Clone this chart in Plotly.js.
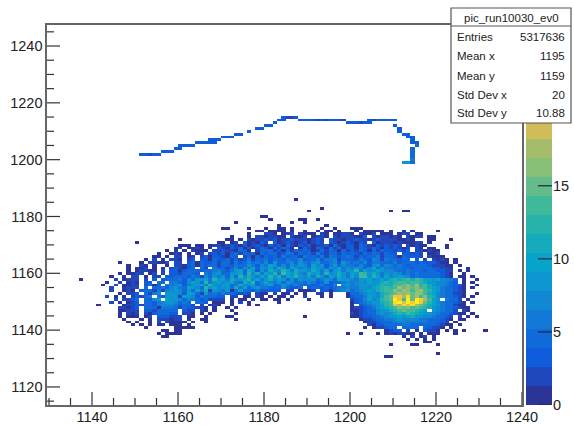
<!DOCTYPE html>
<html>
<head>
<meta charset="utf-8">
<script src="https://cdn.plot.ly/plotly-3.0.1.min.js"></script>
<style>html,body{margin:0;padding:0;background:#fff}#c{width:574px;height:425px}</style>
</head>
<body>
<div id="c"></div>
<script>
// Bin contents. Each entry: [bin y, first x (a decade), blocks of ten bins].
// '.' = empty, 1-9 then a=10 ... p=25.
const trackRows = [
[1215,1180,"....3223"],
[1214,1180,"...33...33 332323332. ....323333 3"],
[1213,1180,"..3....... .........3 33233"],
[1212,1180,"33"],[1212,1210,"3"],
[1211,1170,"........33"],[1211,1210,".3"],
[1210,1170,"......3"],[1210,1210,".3"],
[1209,1170,"...33"],[1209,1210,"..33"],
[1208,1170,"333"],[1208,1210,"...33"],
[1207,1160,".......333"],[1207,1210,"....3"],
[1206,1160,"....33333"],[1206,1210,"....33"],
[1205,1160,"3333"],[1205,1210,".....4"],
[1204,1150,".........3 3"],[1204,1210,"....4"],
[1203,1150,"......333"],[1203,1210,"....4"],
[1202,1150,".33233"],[1202,1210,"....4"],
[1201,1210,"....5"],
[1200,1210,"....6"],
[1199,1210,"..895"]
];
const blobRows = [
[1186,1180,".......1.."],
[1183,1190,"...1"],
[1182,1190,"1......... .........1 ..11"],
[1180,1170,".........1 1"],
[1179,1180,".1......11 ..1"],
[1178,1170,"...1...... ......1..1"],
[1177,1180,"...1...... ....1"],
[1176,1170,"11....1... 1..11.1... ...1..1... 111"],
[1175,1170,"........11 .1111.1..1 ..1.11.1.. .1.11111.1 ..1.1..... 1"],
[1174,1170,"......1... 221.122.21 11.21.1122 1.2112.111 .122.11..."],
[1173,1170,"..1...1.22 12211.2112 .1221.2122 2113.21221 21.2122.11"],
[1172,1160,"1"],
[1172,1170,".11.1.2122 3231223222 1232.32212 2322123222 21121...11 ...1"],
[1171,1150,"1"],
[1171,1160,".........1 1.12.31213 2.31232123 1232.32123 2132.31222 1211122.1."],
[1170,1160,"111.11.122 1232131232 1323142132 3122314213 3143213232 32.21211.. ..1"],
[1169,1150,".........1 2.1121.1.3 2132413124 3142531.14 2153142413 3143243132 3212.21.11 ..1"],
[1168,1150,".......1.1 .1.2111.22 3221431.24 4523142534 3124253142 3243142433 2323.22121 1"],
[1167,1150,".....1..12 1.1.12.232 3135243415 3452365243 4263254253 4324354243 3.33232.11 2"],
[1166,1150,"....11.1.2 2.12.23133 2143.24152 5342634526 4536265346 4253546245 3143332.21 11"],
[1165,1150,"..1.2.1.22 1.23.33143 3524236254 6354365473 5473667245 4365376265 5344.3.2.2 121.1"],
[1164,1140,"......1... .1.22112.2 2.34143342 5426347564 7385467486 5784567396 4657366544 6355434333 211.1"],
[1163,1140,"........1. .21.1..1.2 2134143452 4436548637 6a85749687 5a78369476 6475378476 5653544532 2211.1"],
[1162,1140,"........1. 112.1.1.23 2135.42.63 4257386a58 7a6b84a967 6a97487a69 68757a5866 5655354543 3221...1"],
[1161,1140,"........1. 12211.2.33 1354534567 4368a5b938 6b97ca6b88 7b96a48a68 9c6a78a877 6456545344 3322.1.1"],
[1160,1140,"......1.11 22.12.2.33 24553.6478 5489a5c7b6 a8c6da8b76 b9a6c78b96 a8dc8b9697 8756564544 4321..1"],
[1159,1140,"....1..1.2 2.1.22.334 4536427596 84a5c7b96a 7c9b6a8c97 a6b94a7b86 a7de9ca6a7 8a97465455 4321.11.1"],
[1158,1130,".......1.. .....2.122 2.2.3.3445 637589a6c8 a6b89ac7a6 9b7a849587 7846974a88 7688a79a9b cbcdbdcaa8 a7765.1..1"],
[1157,1140,"...1..2.12 1.33.44.66 537a85c69a 79a64b8c57 a768497465 7634835467 6787a89bcb cdeceecb98 77643.1.1"],
[1156,1140,"..1..2.112 2.3415.667 83689a6c97 8a56b79a56 7a54865754 4356336.78 679889acbb defgehcdb9 7764331..1"],
[1155,1140,"....2..122 2.4.456378 64a974c8a7 894b6a5786 645474334. 3443435667 66897abcdc ehfgfgedba 8654321.1"],
[1154,1140,"....2..121 .345262778 7494a6b287 6815a45363 3333.22.11 12.3315678 5678a9bcde gfhgegheca 8654321"],
[1153,1140,"......1.22 3.5267.889 73a9528465 6443232.21 1.2.11.1.1 ..21.1...1 4567897bce fhgifhgeba 7654221..1"],
[1152,1140,"...2.1.1.2 3256.63899 2a87365443 3.22.11.21 .1.11.1..2 ...1.1...1 3456a87bdf nlhofhegcb 7654321.1"],
[1151,1140,".....2.223 4.5378.a98 7476534222 2.1.11.1.1 1.11.1.... 1......... 2357a79cdf pmdpfpnhda 9.6542.1"],
[1150,1140,"....2.1.12 3.45367887 465.443.11 1.1.2.1... ...1...... .......... 1346789bce orkpnpmfca 7654321.1"],
[1149,1140,".1.....122 3245367776 3542.2.121 ..1...1.1. .......... .......... 1.35678ace lhokohfdba 8654211"],
[1148,1140,"......2212 3.44516665 2433221.1. .1.1...... .......... .......... 1223568abc egfgefdcb8 76543211"],
[1147,1140,"......1122 2.33245554 .322.21.1. ..1....... .......... .......... 112345789b cdfdecba.8 76542.21"],
[1146,1140,"......1.21 2.21344433 .221.1.1.. ...1...... .......... .......... 2123457878 bcbdcba987 6543211.1"],
[1145,1140,"......1.11 1.12.33322 2.11..1... .11....... .........1 .......... 1123345678 8a9ab98776 5432.2.1.1"],
[1144,1140,".......1.. .1.1.22212 2.1..11... ...1...... .......... .......... ..12234566 7877776655 5321.11"],
[1143,1140,"........1. 1..1.2.211 11.1..1... .......... .......... .......... ...1223455 6776666655 432.1"],
[1142,1140,".........1 .1.1.11.11 1.1....... .......... .......... .......... ....213344 5566555544 3211.1"],
[1141,1150,"..1......1 1111...... .......... .......... .......... ...1.12234 4.4544.432 21.1"],
[1140,1150,"......11.1 1......... .......... .......... .......... ........12 33.2.1.322 1.1.1.1... .1"],
[1139,1150,".....1.111 1......... .......... .......... .........1 ..1...1.12 12211.1.11 1...1"],
[1138,1150,"......11.."],
[1138,1210,"..1.2.12.1"],
[1137,1210,"...1.1.1.1"],
[1136,1210,".......11"],
[1135,1200,".........1 ....11.... 1"],
[1132,1220,"1"],
[1131,1200,"........11"]
];
const xMajor = [1140,1160,1180,1200,1220,1240];
const xMinor = [1130,1135,1145,1150,1155,1165,1170,1175,1185,1190,1195,1205,1210,1215,1225,1230,1235];
const yMajor = [1120,1140,1160,1180,1200,1220,1240];
const yMinor = [1115,1125,1130,1135,1145,1150,1155,1165,1170,1175,1185,1190,1195,1205,1210,1215,1225,1230,1235,1245];
const zTicks = [0,5,10,15];
const bandEdges = [0,1.3,2.6,3.9,5.2,6.5,7.8,9.1,10.4,11.7,13,14.3,15.6,16.9,18.2,19.5,20.8,22.1,23.4,24.7,26];
const bandColors = ["#2d3498","#1e48bb","#0f5cdd","#116ada","#1379d7","#1188d3","#0b96cf","#06a4ca","#16abbb","#26b3ab","#40b99b","#63bc89","#87bf77","#a5bd6b","#d0bc58","#dabe52","#ecc342","#fec832","#fcdd24","#faf115"];
const statLabels = ["Entries","Mean x","Mean y","Std Dev x","Std Dev y"];
const statValues = ["5317636","1195","1159","20","10.88"];
const statTitle = "pic_run10030_ev0";

const W = 574, H = 425;
const xRange = [1129.53, 1240], yRange = [1113.65, 1247.4], zRange = [0, 26];
const binX = [], binY = [];
for (let x = 1130; x < 1240; x++) binX.push(x + 0.5);
for (let y = 1130; y <= 1220; y++) binY.push(y);
const z = binY.map(() => binX.map(() => null));
trackRows.concat(blobRows).forEach(([y, first, cells]) => {
  cells.split(" ").forEach((block, i) => {
    [...block].forEach((c, j) => {
      if (c !== ".") z[y - 1130][first + 10 * i + j - 1130] = parseInt(c, 36);
    });
  });
});
const colorscale = [];
bandColors.forEach((c, k) => {
  colorscale.push([k / 20, c]);
  colorscale.push([(k + 1) / 20, c]);
});
const bandMid = bandEdges.slice(0, -1).map((e, i) => [(e + bandEdges[i + 1]) / 2]);

const px = v => v / W, py = v => 1 - v / H;
const font = {family: '"Liberation Sans", Arial, sans-serif', size: 14.5, color: "#222"};
const axisStyle = {
  showgrid: false, zeroline: false, showline: true, linecolor: "#666", linewidth: 1.6,
  ticks: "", tickfont: font, mirror: true
};
const statFont = {family: font.family, size: 11.5, color: "#222"};
const statYs = [37, 56, 76, 95, 113];
const annotations = [{
  text: statTitle, x: px(511), y: py(18), xref: "paper", yref: "paper",
  xanchor: "center", yanchor: "middle", showarrow: false, font: statFont
}];
statLabels.forEach((t, i) => annotations.push({
  text: t, x: px(457), y: py(statYs[i]), xref: "paper", yref: "paper",
  xanchor: "left", yanchor: "middle", showarrow: false, font: statFont, xshift: -2
}));
statValues.forEach((t, i) => annotations.push({
  text: t, x: px(565), y: py(statYs[i]), xref: "paper", yref: "paper",
  xanchor: "right", yanchor: "middle", showarrow: false, font: statFont, xshift: 2
}));

// Tick marks as line traces on the same axes; lengths converted from pixels with the axis scale.
const unitsPerPxX = (xRange[1] - xRange[0]) / 475, unitsPerPxY = (yRange[1] - yRange[0]) / 380;
const tx = [], ty = [];
const addX = (v, len) => { tx.push(v, v, null); ty.push(yRange[0], yRange[0] + len * unitsPerPxY, null); };
const addY = (v, len) => { ty.push(v, v, null); tx.push(xRange[0], xRange[0] + len * unitsPerPxX, null); };
xMajor.forEach(v => addX(v, 13));
xMinor.forEach(v => addX(v, 7));
yMajor.forEach(v => addY(v, 13));
yMinor.forEach(v => addY(v, 7));
const zx = [], zy = [];
zTicks.forEach(v => { zx.push(0.46, 1, null); zy.push(v, v, null); });

Plotly.newPlot("c", [
  {type: "heatmap", x: binX, y: binY, z: z, zmin: 0, zmax: 26, colorscale: colorscale,
   showscale: false, hoverongaps: false, xaxis: "x", yaxis: "y"},
  {type: "scatter", mode: "lines", x: tx, y: ty, line: {color: "#333", width: 1.2},
   connectgaps: false, hoverinfo: "skip", xaxis: "x", yaxis: "y"},
  {type: "heatmap", x: [0, 1], y: bandEdges, z: bandMid, zmin: 0, zmax: 26, colorscale: colorscale,
   showscale: false, xaxis: "x2", yaxis: "y2"},
  {type: "scatter", mode: "lines", x: zx, y: zy, line: {color: "#223", width: 1.2},
   connectgaps: false, hoverinfo: "skip", cliponaxis: false, xaxis: "x2", yaxis: "y2"}
], {
  width: W, height: H, margin: {l: 0, r: 0, t: 0, b: 0},
  paper_bgcolor: "#fff", plot_bgcolor: "#fff", showlegend: false, font: font,
  xaxis: Object.assign({}, axisStyle, {
    domain: [px(47), px(522)], range: xRange, tickmode: "array", tickvals: xMajor, anchor: "y",
    ticklabelstandoff: -2
  }),
  yaxis: Object.assign({}, axisStyle, {
    domain: [1 - 405 / H, 1 - 25 / H], range: yRange, tickmode: "array", tickvals: yMajor, anchor: "x"
  }),
  xaxis2: {domain: [px(526), px(552)], range: [0, 1], visible: false, anchor: "y2", fixedrange: true},
  yaxis2: {
    domain: [1 - 405 / H, 1 - 25 / H], range: zRange, anchor: "x2", side: "right",
    showgrid: false, zeroline: false, showline: false, ticks: "",
    tickmode: "array", tickvals: zTicks, tickfont: font
  },
  shapes: [
    {type: "rect", xref: "paper", yref: "paper", x0: px(451), x1: px(571), y0: py(123), y1: py(8),
     fillcolor: "#fff", line: {color: "#555", width: 1.2}, layer: "above"},
    {type: "line", xref: "paper", yref: "paper", x0: px(451), x1: px(571), y0: py(26), y1: py(26),
     line: {color: "#555", width: 1.2}, layer: "above"}
  ],
  annotations: annotations
}, {displayModeBar: false, staticPlot: true});
</script>
</body>
</html>
